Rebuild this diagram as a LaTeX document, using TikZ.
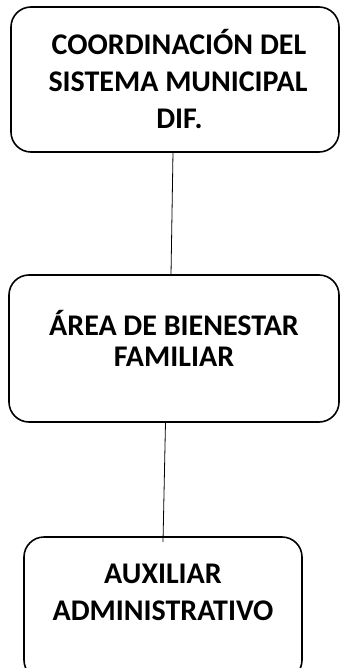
\documentclass[tikz,border=0pt]{standalone}
\usepackage{fontspec}
\setmainfont{Carlito}
\begin{document}
\begin{tikzpicture}[x=1pt,y=-1pt,
  box/.style={draw, line width=1.6pt, rounded corners=20pt},
  label/.style={font=\bfseries\fontsize{30}{37}\selectfont, align=center, anchor=base},
  link/.style={draw, line width=0.8pt}]
\useasboundingbox (0,0) rectangle (340,668);
\draw[box] (11,7) rectangle (339,152);
\draw[box] (9,275) rectangle (339,422);
\draw[box] (24,537) rectangle (302,680);
\node[label] (t1a) at (179,55) {COORDINACIÓN DEL};
\node[label] (t1b) at (178,92) {SISTEMA MUNICIPAL};
\node[label] (t1c) at (179.5,129) {DIF.};
\node[label] (t2a) at (174,335) {ÁREA DE BIENESTAR};
\node[label] (t2b) at (174,366) {FAMILIAR};
\node[label] (t3a) at (163,583) {AUXILIAR};
\node[label] (t3b) at (163,620) {ADMINISTRATIVO};
\coordinate (a1) at (173,152);
\coordinate (a2) at (171,275);
\coordinate (b1) at (165.5,422);
\coordinate (b2) at (163,542);
\draw[link] (a1) -- (a2);
\draw[link] (b1) -- (b2);
\end{tikzpicture}
\end{document}
